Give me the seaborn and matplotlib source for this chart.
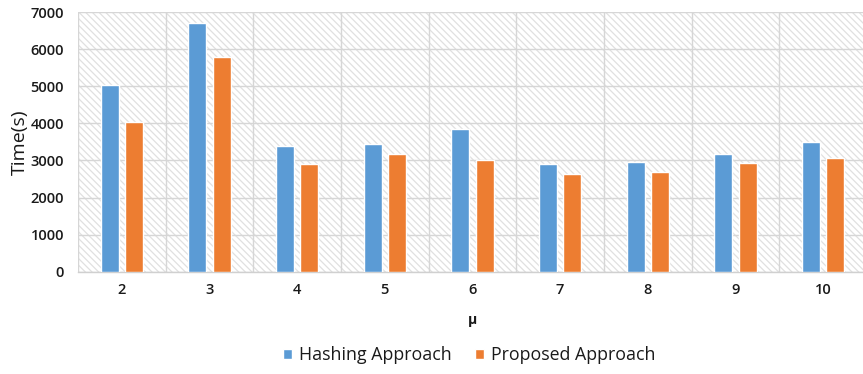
import matplotlib
matplotlib.use("Agg")
import matplotlib.pyplot as plt
import seaborn as sns
import pandas as pd

# Values per μ setting
mu_values = ["2", "3", "4", "5", "6", "7", "8", "9", "10"]
hashing_time = [5030, 6700, 3400, 3430, 3850, 2900, 2960, 3160, 3500]
proposed_time = [4040, 5780, 2900, 3160, 3000, 2620, 2690, 2930, 3060]
series_names = ["Hashing Approach", "Proposed Approach"]
y_ticks = [0, 1000, 2000, 3000, 4000, 5000, 6000, 7000]

df = pd.DataFrame({
    "mu": mu_values * 2,
    "time": hashing_time + proposed_time,
    "series": [series_names[0]] * len(mu_values) + [series_names[1]] * len(mu_values),
})

sns.set_theme(style="white")
plt.rcParams["font.family"] = ["Open Sans", "DejaVu Sans"]
plt.rcParams["hatch.color"] = "#e0e0e0"
plt.rcParams["hatch.linewidth"] = 0.9

fig = plt.figure(figsize=(8.63, 3.74), dpi=100)
ax = fig.add_axes([78 / 863, 1 - 271.7 / 374, 789 / 863, 259.7 / 374])

# hatched plot background
ax.patch.set_facecolor("white")
ax.patch.set_hatch("\\\\\\\\\\")
ax.patch.set_edgecolor("#e0e0e0")

palette = {series_names[0]: "#5B9BD5", series_names[1]: "#ED7D31"}
sns.barplot(data=df, x="mu", y="time", hue="series", order=mu_values,
            hue_order=series_names, palette=palette, width=0.552, gap=0.257,
            saturation=1, ax=ax, legend=True, zorder=3)

ax.set_ylim(0, 7000)
ax.set_xlim(-0.5, len(mu_values) - 0.5)
ax.set_yticks(y_ticks)
ax.set_yticklabels([str(t) for t in y_ticks])

# light grid at category boundaries and y ticks
for b in range(len(mu_values) + 1):
    ax.axvline(b - 0.5, color="#d6d6d6", lw=1.0, zorder=1)
for t in y_ticks:
    ax.axhline(t, color="#d6d6d6", lw=1.0, zorder=1)

for s in ["top", "right", "left"]:
    ax.spines[s].set_visible(False)
ax.spines["bottom"].set_color("#d0d0d0")
ax.spines["bottom"].set_linewidth(1.0)

ax.tick_params(axis="both", length=0, labelsize=10.5, colors="#1a1a1a")
ax.tick_params(axis="x", pad=8)
ax.tick_params(axis="y", pad=10)
for lbl in ax.get_xticklabels() + ax.get_yticklabels():
    lbl.set_fontweight("semibold")

ax.set_ylabel("Time(s)", fontsize=14, color="#1a1a1a", labelpad=1)
ax.set_xlabel("μ", fontsize=10, fontweight="bold", color="#1a1a1a", labelpad=12)

handles, labels = ax.get_legend_handles_labels()
ax.legend(handles, labels, loc="center", bbox_to_anchor=(469 / 863, 19 / 374),
          bbox_transform=fig.transFigure, ncol=2, frameon=False,
          fontsize=12.8, handlelength=0.5, handleheight=0.5, handletextpad=0.4,
          columnspacing=1.3, labelcolor="#1a1a1a")

fig.savefig("out.png", dpi=100)
